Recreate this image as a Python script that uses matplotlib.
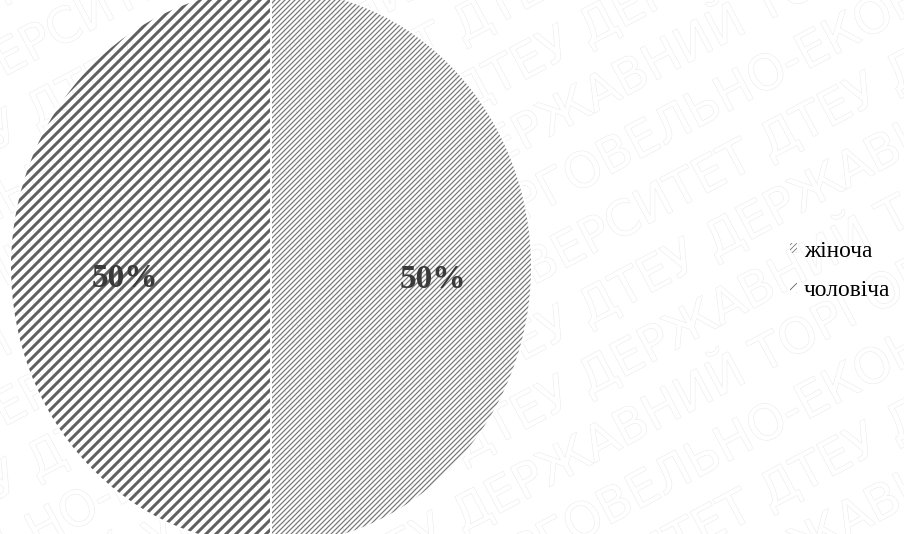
import matplotlib.pyplot as plt
import matplotlib.patheffects as pe
from matplotlib.transforms import offset_copy

# data
labels = ['жіноча', 'чоловіча']
values = [50, 50]

# styling per wedge
hatches = ['////', '//']
hatch_colors = ['#7a7a7a', '#606060']
hatch_widths = [1.5, 3.6]

watermark_words = ['ДТЕУ', 'ДЕРЖАВНИЙ', 'ТОРГОВЕЛЬНО-ЕКОНОМІЧНИЙ', 'УНІВЕРСИТЕТ', 'ДТЕУ']

W, H, DPI = 904, 534, 60
fig = plt.figure(figsize=(W / DPI, H / DPI), dpi=DPI)

# faint watermark behind the chart
for k in range(16):
    words = watermark_words[k % 5:] + watermark_words + watermark_words[:k % 5]
    line = ' '.join(words + words)
    y = 1 - (-250 + 70 * k) / H
    t = fig.text(0.5, y, line, rotation=28, ha='center', va='center',
                 rotation_mode='anchor', fontsize=58,
                 family='DejaVu Sans', color='white', zorder=-5)
    t.set_path_effects([pe.withStroke(linewidth=1.2, foreground='#e9e9e9')])

ax = fig.add_axes([10 / W, -12 / H, 522 / W, 558 / H])

wedges, texts, autotexts = ax.pie(
    values, startangle=90, counterclock=False, autopct='%d%%',
    pctdistance=0.59,
    wedgeprops=dict(facecolor='none', linewidth=0),
    textprops=dict(family='Liberation Serif', fontsize=40,
                   fontweight='bold', color='#3a3a3a'))

for w, h, c, lw in zip(wedges, hatches, hatch_colors, hatch_widths):
    w.set_hatch(h)
    w.set_edgecolor(c)
    w.set_linewidth(0)
    if hasattr(w, 'set_hatch_linewidth'):
        w.set_hatch_linewidth(lw)

# thin white divider between the slices
ax.pie(values, startangle=90, counterclock=False,
       wedgeprops=dict(facecolor='none', edgecolor='white', linewidth=2.4))

ax.set_aspect('auto')
ax.set_xlim(-1, 1)
ax.set_ylim(-1, 1)
for t in autotexts:
    t.set_zorder(5)
    t.set_transform(offset_copy(t.get_transform(), fig, x=8, y=-12, units='dots'))

fig.legend(wedges, labels, loc='center left',
           bbox_to_anchor=(790 / W, 1 - 271 / H), frameon=False,
           handlelength=0.3, handleheight=0.3, handletextpad=0.3,
           labelspacing=0.8, borderpad=0, borderaxespad=0,
           prop={'family': 'Liberation Serif', 'size': 28})

fig.savefig('out.png', dpi=DPI)
